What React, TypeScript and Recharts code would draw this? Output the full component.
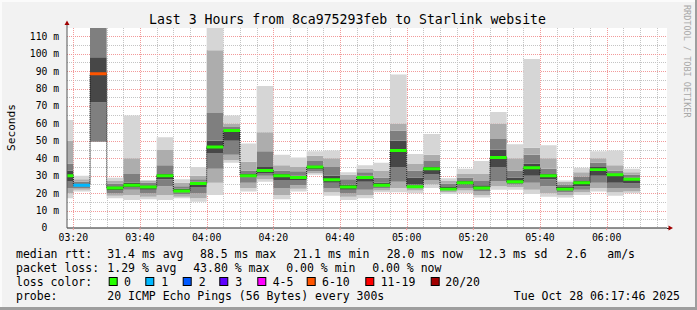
import React from 'react';
import { ComposedChart, Area, XAxis, YAxis, CartesianGrid } from 'recharts';

// ---- data (minutes after 03:00, ms) ----
const barStart = [15, 20, 25, 30, 35, 40, 45, 50, 55, 60, 65, 70, 75, 80, 85, 90, 95, 100, 105, 110, 115, 120, 125, 130, 135, 140, 145, 150, 155, 160, 165, 170, 175, 180, 185];
const stepMinutes = 5;
const pingMin = [17, 21, 49.5, 17, 16, 16.5, 16, 17, 15, 19, 37.5, 21, 26.5, 16.5, 21, 30.5, 18.5, 16, 17, 20.5, 20.5, 20, 23, 19.5, 20, 17.5, 22, 22, 19.5, 18, 17.5, 19, 21, 18.5, 20];
const pingP10 = [20, 22, 49.5, 18.5, 19, 18, 19, 18, 17, 26, 39, 23, 28, 19, 22.5, 31.5, 20.5, 18, 19, 21.5, 23, 21.5, 25, 20.5, 21.5, 19, 24, 23.5, 22, 20, 19, 20.5, 23, 20.5, 21];
const pingP25 = [23, 23, 49.5, 20, 22, 20, 24, 19.5, 20, 34, 42, 26, 30, 23, 24.5, 32.5, 23, 20, 22, 23, 26.5, 23, 27.5, 21.5, 23, 21, 27, 25, 26, 24, 20.5, 22, 26, 23, 23];
const pingP40 = [27, 24, 72, 21.5, 23.5, 22, 28, 20.5, 23.5, 43, 50, 29, 31.5, 27.5, 27.5, 33.5, 26, 22, 26.5, 24, 35, 25, 31, 22, 25, 22.5, 35, 26, 30, 28, 21.5, 24, 30, 26, 25.5];
const pingP60 = [33, 25, 98, 24, 26, 24.5, 31, 22.5, 26.5, 50, 56.5, 31, 35, 31, 30, 36, 30, 25, 30, 26, 50, 29, 35, 23.5, 27, 24.5, 45, 29, 37, 31, 23.5, 27, 35, 31, 29];
const pingP75 = [37, 26.5, 125, 25.5, 31, 26, 36, 24, 28, 66, 58, 33, 44, 33, 32.5, 38.5, 35, 28, 32, 29, 56, 33, 38.5, 25.5, 29, 27, 51, 33, 42, 34, 25, 29.5, 37.5, 33, 30.5];
const pingP90 = [50, 28, 125, 27, 40, 27, 45, 26, 30, 102, 60, 38, 55, 36, 35, 41.5, 40, 30.5, 34, 33, 60, 37, 42, 27, 31, 31, 60, 40, 46, 40, 26.5, 32, 40, 36, 32];
const pingMax = [62, 30, 125, 28.8, 64.5, 27.5, 52, 28, 35, 125, 64.5, 48.5, 81.5, 42, 40.5, 44, 44.5, 32, 36, 37.5, 88, 42.5, 54, 28.5, 34, 38.5, 66.5, 48, 97, 47.5, 27.3, 34.5, 44, 44.5, 34];
const medianRtt = [30, 24.5, 88.5, 23, 24.5, 23.5, 30, 21.2, 25.5, 46.5, 56, 30, 33, 30, 29, 35, 27.7, 23.5, 29, 24.5, 44.5, 23.7, 34, 22.3, 26, 23, 40.5, 26.5, 34.6, 30, 22.3, 26, 33.5, 30.5, 28];
const lostPings = [0, 1, 8, 0, 0, 0, 0, 0, 0, 0, 0, 0, 0, 0, 0, 0, 0, 0, 0, 0, 0, 0, 0, 0, 0, 0, 0, 0, 0, 0, 0, 0, 0, 0, 0];

const lossLabels = ['0', '1', '2', '3', '4-5', '6-10', '11-19', '20/20'];
const lossUpper = [0, 1, 2, 3, 5, 10, 19, 20];
const lossColors = ['#26ff00', '#00b8ff', '#0059ff', '#5e00ff', '#ff00ff', '#ff5500', '#ff0000', '#a10000'];

const xTickMinutes = [20, 40, 60, 80, 100, 120, 140, 160, 180];
const xTickLabels = ['03:20', '03:40', '04:00', '04:20', '04:40', '05:00', '05:20', '05:40', '06:00'];
const yTickValues = [0, 10, 20, 30, 40, 50, 60, 70, 80, 90, 100, 110];

const statsRow1 = ['median rtt:', '31.4 ms avg', '88.5 ms max', '21.1 ms min', '28.0 ms now', '12.3 ms sd', '2.6', 'am/s'];
const statsRow2 = ['packet loss:', '1.29 % avg', '43.80 % max', '0.00 % min', '0.00 % now'];
const probeText = ['probe:', '20 ICMP Echo Pings (56 Bytes) every 300s', 'Tue Oct 28 06:17:46 2025'];
const titleText = 'Last 3 Hours from 8ca975293feb to Starlink website';

// ---- layout / style ----
const X_DOMAIN: [number, number] = [18.1, 198.1];
const Y_DOMAIN: [number, number] = [0, 114.75];
const MONO = "'DejaVu Sans Mono', monospace";
const shades = ['#d6d6d6', '#adadad', '#7f7f7f', '#474747'];
const BAND = 1.7;

const lossClass = (n: number) => lossUpper.findIndex((u) => n <= u);

const rows = barStart.map((t, i) => {
  const r: any = {
    t,
    base: pingMin[i],
    s1: pingP10[i] - pingMin[i],
    s2: pingP25[i] - pingP10[i],
    s3: pingP40[i] - pingP25[i],
    s4: pingP60[i] - pingP40[i],
    s5: pingP75[i] - pingP60[i],
    s6: pingP90[i] - pingP75[i],
    s7: pingMax[i] - pingP90[i],
    med: medianRtt[i],
    medBase: medianRtt[i] - BAND / 2,
  };
  const c = lossClass(lostPings[i]);
  lossColors.forEach((_, k) => {
    r['loss' + k] = k === c ? BAND : 0;
  });
  return r;
});
rows.push({ ...rows[rows.length - 1], t: barStart[barStart.length - 1] + stepMinutes });

const minorX: number[] = [];
for (let m = 20; m <= 198; m += 5) if (m % 20 !== 0) minorX.push(m);
const minorY: number[] = [];
for (let v = 5; v <= 114; v += 10) minorY.push(v);
const majorX = xTickMinutes;
const majorY = yTickValues.filter((v) => v > 0);

const applyScale = (s: any, v: number): number | null => {
  if (typeof s === 'function') return s(v);
  if (s && typeof s.map === 'function') return s.map(v);
  return null;
};
const yGen = (vals: number[]) => (p: any) => {
  const o = p.offset || {};
  return vals.map((v) => {
    const r = applyScale(p.yAxis && p.yAxis.scale, v);
    const y = r != null && !isNaN(r) ? r : o.top + o.height * (1 - (v - Y_DOMAIN[0]) / (Y_DOMAIN[1] - Y_DOMAIN[0]));
    return Math.round(y) + 0.5;
  });
};
const xGen = (vals: number[]) => (p: any) => {
  const o = p.offset || {};
  return vals.map((v) => {
    const r = applyScale(p.xAxis && p.xAxis.scale, v);
    const x = r != null && !isNaN(r) ? r : o.left + o.width * ((v - X_DOMAIN[0]) / (X_DOMAIN[1] - X_DOMAIN[0]));
    return Math.round(x) + 0.5;
  });
};

const smokeKeys = ['s1', 's2', 's3', 's4', 's5', 's6', 's7'];
const smokeFill = [shades[0], shades[1], shades[2], shades[3], shades[2], shades[1], shades[0]];

const YTick = (props: any) => {
  const { x, y, payload } = props;
  const v = payload.value;
  const label = v === 0 ? '0  ' : `${v} m`;
  return (
    <text x={x} y={y} dy="0.355em" textAnchor="end" xmlSpace="preserve" style={{ whiteSpace: 'pre' }}
      fontSize={9.7} fontFamily={MONO} fill="#000">{label}</text>
  );
};

const row1X = [16, 107.3, 200, 293.3, 386.7, 478.3, 566, 607.3];
const row2X = [16, 107.3, 193.2, 286.2, 372.2];
const boxX = [108.7, 145.3, 182.7, 219.3, 257.3, 306.7, 365.3, 430.7];
const lblX = [124, 161.3, 198.7, 235.3, 272.7, 322, 380.7, 445.3];

export default function App() {
  return (
    <div style={{ position: 'absolute', left: 0, top: 0, width: 697, height: 310, background: '#f2f2f2',
      boxShadow: 'inset -2px -3px 0 #9e9e9e, inset 2px 2px 0 #fbfbfb', fontFamily: MONO }}>
      <ComposedChart width={697} height={310} data={rows} margin={{ top: 28, right: 30, bottom: 52, left: 0 }}>
        <CartesianGrid xAxisId="main" yAxisId="main"
          horizontalCoordinatesGenerator={yGen(minorY)} verticalCoordinatesGenerator={xGen(minorX)}
          stroke="#c4c4c4" strokeDasharray="1 1" fill="#ffffff" fillOpacity={1} />
        <CartesianGrid xAxisId="main" yAxisId="main"
          horizontalCoordinatesGenerator={yGen(majorY)} verticalCoordinatesGenerator={xGen(majorX)}
          stroke="#f29a9a" strokeDasharray="1 1" />
        <XAxis xAxisId="main" dataKey="t" type="number" domain={X_DOMAIN} allowDataOverflow ticks={xTickMinutes}
          tickFormatter={(v: number) => xTickLabels[xTickMinutes.indexOf(v)]}
          height={30} tickSize={2} tickMargin={4} tickLine={{ stroke: '#f29a9a' }}
          axisLine={{ stroke: '#222' }} tick={{ fontSize: 9.8, fill: '#000', fontFamily: MONO }} interval={0} />
        <YAxis yAxisId="main" type="number" domain={Y_DOMAIN} allowDataOverflow ticks={yTickValues}
          width={67} tickSize={0} tickMargin={8} tickLine={false} axisLine={{ stroke: '#555' }} tick={<YTick />} interval={0} />
        <Area xAxisId="main" yAxisId="main" dataKey="base" stackId="smoke" type="stepAfter" stroke="none" fill="none"
          isAnimationActive={false} dot={false} activeDot={false} />
        {smokeKeys.map((k, i) => (
          <Area key={k} xAxisId="main" yAxisId="main" dataKey={k} stackId="smoke" type="stepAfter" stroke="none"
            fill={smokeFill[i]} fillOpacity={1} isAnimationActive={false} dot={false} activeDot={false} />
        ))}
        <Area xAxisId="main" yAxisId="main" dataKey="med" type="stepAfter" stroke="#111" strokeWidth={1}
          strokeDasharray="1 1" fill="none" isAnimationActive={false} dot={false} activeDot={false} />
        <Area xAxisId="main" yAxisId="main" dataKey="medBase" stackId="med" type="stepAfter" stroke="none" fill="none"
          isAnimationActive={false} dot={false} activeDot={false} />
        {lossColors.map((c, k) => (
          <Area key={'loss' + k} xAxisId="main" yAxisId="main" dataKey={'loss' + k} stackId="med" type="stepAfter"
            stroke="none" fill={c} fillOpacity={1} isAnimationActive={false} dot={false} activeDot={false} />
        ))}
      </ComposedChart>
      <svg width={697} height={310} style={{ position: 'absolute', left: 0, top: 0, pointerEvents: 'none' }}
        fontFamily={MONO} fill="#000">
        <line x1={67} y1={28} x2={67} y2={24} stroke="#555" />
        <polygon points="64.5,25 69.5,25 67,20.5" fill="#a00000" />
        <line x1={667} y1={228.5} x2={670} y2={228.5} stroke="#222" />
        <polygon points="668.5,225.5 668.5,230.5 673,228" fill="#a00000" />
        <text x={347.5} y={24} textAnchor="middle" fontSize={13.2}>{titleText}</text>
        <text transform="translate(15,127.5) rotate(-90)" textAnchor="middle" fontSize={11.2}>Seconds</text>
        <text transform="translate(684,5) rotate(90)" fontSize={8.5} fill="#a8a8a8">RRDTOOL / TOBI OETIKER</text>
        {statsRow1.map((s, i) => (
          <text key={'r1' + i} x={row1X[i]} y={257.5} fontSize={11.5}>{s}</text>
        ))}
        {statsRow2.map((s, i) => (
          <text key={'r2' + i} x={row2X[i]} y={271.5} fontSize={11.5}>{s}</text>
        ))}
        <text x={16} y={285.5} fontSize={11.5}>loss color:</text>
        {lossLabels.map((l, i) => (
          <g key={'lc' + i}>
            <rect x={boxX[i] + 0.5} y={277.5} width={8} height={8} fill={lossColors[i]} stroke="#000" />
            <text x={lblX[i]} y={285.5} fontSize={11.5}>{l}</text>
          </g>
        ))}
        <text x={16} y={299.5} fontSize={11.5}>{probeText[0]}</text>
        <text x={107.3} y={299.5} fontSize={11.5}>{probeText[1]}</text>
        <text x={680} y={299.5} fontSize={11.5} textAnchor="end">{probeText[2]}</text>
      </svg>
    </div>
  );
}
